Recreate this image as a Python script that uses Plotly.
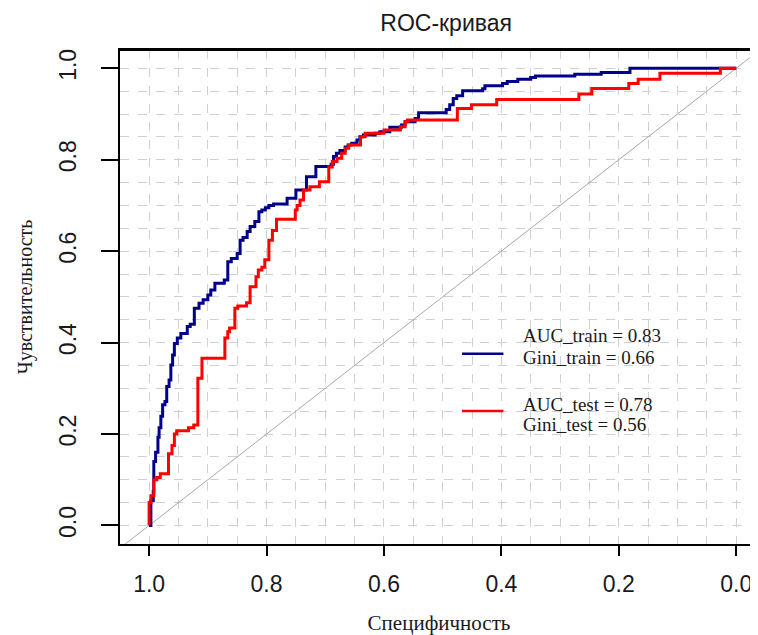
import plotly.graph_objects as go

# ROC points: (specificity, sensitivity) at the top of each step
train_spec = [1.000, 0.997, 0.993, 0.992, 0.989, 0.985, 0.983, 0.980, 0.977, 0.973,
              0.970, 0.966, 0.963, 0.960, 0.957, 0.952, 0.946, 0.935, 0.930, 0.923,
              0.915, 0.908, 0.900, 0.895, 0.888, 0.872, 0.866, 0.860, 0.850, 0.845,
              0.840, 0.833, 0.828, 0.820, 0.813, 0.808, 0.802, 0.796, 0.788, 0.765,
              0.750, 0.732, 0.716, 0.690, 0.686, 0.681, 0.675, 0.666, 0.661, 0.655,
              0.646, 0.641, 0.635, 0.615, 0.607, 0.590, 0.570, 0.564, 0.547, 0.541,
              0.494, 0.488, 0.482, 0.476, 0.466, 0.432, 0.428, 0.398, 0.390, 0.372,
              0.350, 0.342, 0.275, 0.230, 0.181, 0.000]
train_sens = [0.000, 0.054, 0.075, 0.140, 0.160, 0.193, 0.214, 0.239, 0.264, 0.271,
              0.304, 0.318, 0.351, 0.373, 0.398, 0.410, 0.420, 0.435, 0.440, 0.475,
              0.486, 0.494, 0.504, 0.515, 0.530, 0.537, 0.577, 0.584, 0.595, 0.624,
              0.630, 0.643, 0.654, 0.665, 0.686, 0.690, 0.695, 0.700, 0.703, 0.716,
              0.734, 0.763, 0.785, 0.790, 0.807, 0.814, 0.820, 0.828, 0.832, 0.836,
              0.843, 0.850, 0.854, 0.858, 0.861, 0.871, 0.876, 0.883, 0.890, 0.903,
              0.910, 0.920, 0.934, 0.940, 0.951, 0.955, 0.962, 0.967, 0.971, 0.976,
              0.980, 0.983, 0.987, 0.991, 1.000, 1.000]

test_spec = [1.000, 1.000, 0.997, 0.992, 0.987, 0.981, 0.967, 0.961, 0.957, 0.953,
             0.933, 0.924, 0.917, 0.910, 0.871, 0.866, 0.863, 0.854, 0.849, 0.834,
             0.828, 0.818, 0.814, 0.808, 0.803, 0.796, 0.790, 0.783, 0.751, 0.748,
             0.743, 0.737, 0.726, 0.710, 0.694, 0.688, 0.680, 0.672, 0.666, 0.660,
             0.640, 0.632, 0.600, 0.572, 0.564, 0.560, 0.475, 0.451, 0.408, 0.268,
             0.246, 0.183, 0.167, 0.130, 0.027, 0.000]
test_sens = [0.000, 0.050, 0.065, 0.100, 0.105, 0.113, 0.157, 0.175, 0.200, 0.207,
             0.214, 0.220, 0.322, 0.366, 0.410, 0.424, 0.432, 0.475, 0.480, 0.487,
             0.522, 0.544, 0.559, 0.565, 0.581, 0.624, 0.645, 0.670, 0.690, 0.700,
             0.712, 0.734, 0.741, 0.752, 0.784, 0.796, 0.803, 0.814, 0.825, 0.832,
             0.850, 0.858, 0.865, 0.872, 0.883, 0.887, 0.912, 0.920, 0.932, 0.944,
             0.956, 0.967, 0.976, 0.989, 1.000, 1.000]

auc_train, gini_train = 0.83, 0.66
auc_test, gini_test = 0.78, 0.56

tick_vals = [1.0, 0.8, 0.6, 0.4, 0.2, 0.0]
tick_text = ["1.0", "0.8", "0.6", "0.4", "0.2", "0.0"]

train_color = "#00008B"
test_color = "#FF0000"
grid_color = "#D0D0D0"
serif = "Liberation Serif, Times New Roman, serif"
sans = "Arial, Liberation Sans, sans-serif"

fig = go.Figure()

# chance diagonal, runs through the whole plotting box like abline(1, -1)
fig.add_trace(go.Scatter(x=[1.2, -0.2], y=[-0.2, 1.2], mode="lines",
                         line=dict(color="#A8A8A8", width=1), hoverinfo="skip",
                         showlegend=False))

fig.add_trace(go.Scatter(x=train_spec, y=train_sens, mode="lines", line_shape="hv",
                         line=dict(color=train_color, width=3), showlegend=False))
fig.add_trace(go.Scatter(x=test_spec, y=test_sens, mode="lines", line_shape="hv",
                         line=dict(color=test_color, width=3), showlegend=False))

axis_common = dict(
    showline=True, linecolor="black", linewidth=2,
    ticks="outside", tickcolor="black", tickwidth=2,
    tickvals=tick_vals, ticktext=tick_text,
    showgrid=True, gridcolor=grid_color, griddash="dash", gridwidth=1,
    minor=dict(dtick=0.05, showgrid=True, gridcolor=grid_color, griddash="dash",
               gridwidth=1, ticks=""),
    zeroline=False, automargin=False,
    tickfont=dict(family=sans, size=23, color="#1a1a1a"),
)

fig.update_xaxes(axis_common, range=[1.0496, -0.0371], ticklen=10, mirror=True,
                 ticklabelstandoff=8,
                 title=dict(text="Специфичность", standoff=20,
                            font=dict(family=serif, size=21, color="#1a1a1a")))
fig.update_yaxes(axis_common, range=[-0.0405, 1.040], ticklen=17, tickangle=-90,
                 ticklabelstandoff=16,
                 title=dict(text="Чувствительность", standoff=17,
                            font=dict(family=serif, size=20, color="#1a1a1a")))

# top edge of the plotting box
fig.add_shape(type="line", xref="paper", yref="paper", x0=0, x1=1, y0=1, y1=1,
              line=dict(color="black", width=2))

# legend keys and texts, R-style legend without a frame
legend_rows = [
    (train_color, 0.385, f"AUC_train = {auc_train:.2f}", f"Gini_train = {gini_train:.2f}", 0.423, 0.377),
    (test_color, 0.269, f"AUC_test = {auc_test:.2f}", f"Gini_test = {gini_test:.2f}", 0.283, 0.241),
]
for color, ykey, line1, line2, y1, y2 in legend_rows:
    fig.add_shape(type="line", xref="paper", yref="paper", x0=0.536, x1=0.601,
                  y0=ykey, y1=ykey, line=dict(color=color, width=2.5))
    for txt, yy in ((line1, y1), (line2, y2)):
        fig.add_annotation(xref="paper", yref="paper", x=0.629, y=yy, text=txt,
                           showarrow=False, xanchor="left", yanchor="middle",
                           font=dict(family=serif, size=19, color="#1a1a1a"))

# the page adds an 8px body margin, so the margins here are 8px smaller at left/top
fig.update_layout(
    width=758, height=635,
    margin=dict(l=112, r=8, t=42, b=99, autoexpand=False),
    paper_bgcolor="white", plot_bgcolor="white",
    title=dict(text="ROC-кривая", x=0.578, xanchor="center", y=0.976, yanchor="middle",
               font=dict(family=sans, size=23, color="#1a1a1a")),
    showlegend=False,
)

fig.write_html("out.html")
